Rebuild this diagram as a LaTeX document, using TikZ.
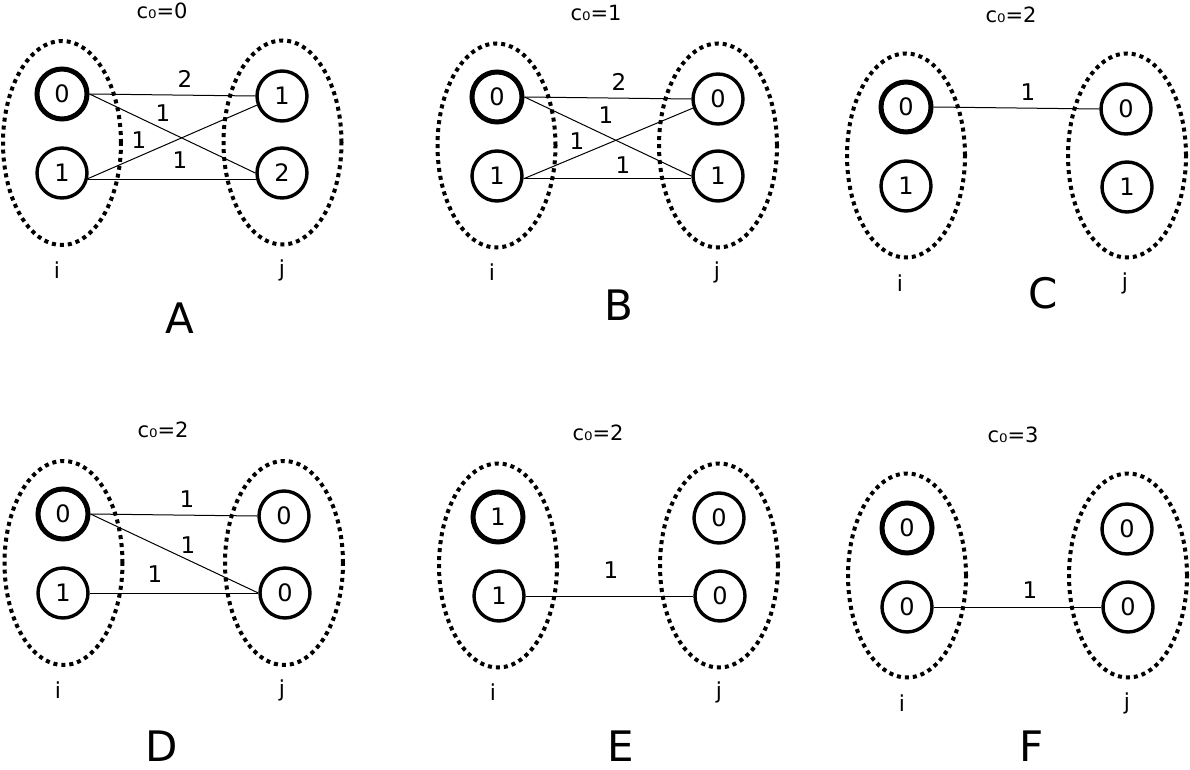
\documentclass[tikz,border=0pt]{standalone}
\usepackage{fontspec}
\setmainfont{DejaVu Sans}
\usetikzlibrary{shapes.geometric}
\tikzset{
  st/.style={circle, draw, line width=3.4pt, minimum size=50pt, inner sep=0pt, font=\fontsize{24}{24}\selectfont},
  stb/.style={st, line width=5pt},
  grp/.style={ellipse, draw, line width=4pt, dash pattern=on 4pt off 4pt, minimum width=118pt, minimum height=204pt, inner sep=0pt},
  edge/.style={line width=1pt},
  wl/.style={font=\fontsize{23}{23}\selectfont, inner sep=0pt},
  cztitle/.style={font=\fontsize{21}{21}\selectfont, inner sep=0pt},
  side/.style={font=\fontsize{22}{22}\selectfont, inner sep=0pt},
  big/.style={font=\fontsize{42}{42}\selectfont, inner sep=0pt},
}
\begin{document}
\begin{tikzpicture}[x=1pt,y=-1pt]
\useasboundingbox (0,0) rectangle (1190,770);

% ---------- Panel A ----------
\node[grp] (Ai) at (62,143) {};
\node[grp] (Aj) at (282.5,142.5) {};
\node[stb] (Ai0) at (62,94) {0};
\node[st] (Ai1) at (62,173) {1};
\node[st] (Aj1) at (282,96) {1};
\node[st] (Aj2) at (282,173) {2};
\draw[edge] (Ai0.east) -- (Aj1.west);
\draw[edge] (Ai0.east) -- (Aj2.west);
\draw[edge] (Ai1.-12) -- (Aj1.200);
\draw[edge] (Ai1.-14) -- (Aj2.194);
\node[wl] (Al1) at (185,79) {2};
\node[wl] (Al2) at (163,113) {1};
\node[wl] (Al3) at (139,140) {1};
\node[wl] (Al4) at (180,160) {1};
\node[cztitle] (Ac) at (162,11) {c₀=0};
\node[side] (Ail) at (57,270) {i};
\node[side] (Ajl) at (282,270) {j};
\node[big] (At) at (180,318) {A};

% ---------- Panel B ----------
\node[grp] (Bi) at (496.5,145.5) {};
\node[grp] (Bj) at (718,145.5) {};
\node[stb] (Bi0) at (497,97) {0};
\node[st] (Bi1) at (497,176) {1};
\node[st] (Bj0) at (718,99) {0};
\node[st] (Bj1) at (718,176) {1};
\draw[edge] (Bi0.east) -- (Bj0.west);
\draw[edge] (Bi0.east) -- (Bj1.west);
\draw[edge] (Bi1.-6) -- (Bj0.200);
\draw[edge] (Bi1.-6) -- (Bj1.186);
\node[wl] (Bl1) at (619,82) {2};
\node[wl] (Bl2) at (606,115) {1};
\node[wl] (Bl3) at (577,141) {1};
\node[wl] (Bl4) at (623,165) {1};
\node[cztitle] (Bc) at (596,13) {c₀=1};
\node[side] (Bil) at (492,272) {i};
\node[side] (Bjl) at (717,272) {j};
\node[big] (Bt) at (619,305) {B};

% ---------- Panel C ----------
\node[grp] (Ci) at (906,155.5) {};
\node[grp] (Cj) at (1127,155.5) {};
\node[stb] (Ci0) at (906,107) {0};
\node[st] (Ci1) at (906,186) {1};
\node[st] (Cj0) at (1126,109) {0};
\node[st] (Cj1) at (1127,187) {1};
\draw[edge] (Ci0.east) -- (Cj0.west);
\node[wl] (Cl1) at (1028,92) {1};
\node[cztitle] (Cc) at (1011,15) {c₀=2};
\node[side] (Cil) at (900,283) {i};
\node[side] (Cjl) at (1125,283) {j};
\node[big] (Ct) at (1043,293) {C};

% ---------- Panel D ----------
\node[grp] (Di) at (63.5,563) {};
\node[grp] (Dj) at (284,563) {};
\node[stb] (Di0) at (63,514) {0};
\node[st] (Di1) at (63,593) {1};
\node[st] (Dj0) at (284,516) {0};
\node[st] (Dj1) at (285,593) {0};
\draw[edge] (Di0.east) -- (Dj0.west);
\draw[edge] (Di0.east) -- (Dj1.west);
\draw[edge] (Di1.east) -- (Dj1.west);
\node[wl] (Dl1) at (187,499) {1};
\node[wl] (Dl2) at (188,545) {1};
\node[wl] (Dl3) at (155,574) {1};
\node[cztitle] (Dc) at (163,430) {c₀=2};
\node[side] (Dil) at (58,690) {i};
\node[side] (Djl) at (282,690) {j};
\node[big] (Dt) at (162,746) {D};

% ---------- Panel E ----------
\node[grp] (Ei) at (498,565.5) {};
\node[grp] (Ej) at (719,565.5) {};
\node[stb] (Ei0) at (498,517) {1};
\node[st] (Ei1) at (499,596) {1};
\node[st] (Ej0) at (719,518) {0};
\node[st] (Ej1) at (720,596) {0};
\draw[edge] (Ei1.east) -- (Ej1.west);
\node[wl] (El1) at (611,570) {1};
\node[cztitle] (Ec) at (598,433) {c₀=2};
\node[side] (Eil) at (493,692) {i};
\node[side] (Ejl) at (719,692) {j};
\node[big] (Et) at (621,746) {E};

% ---------- Panel F ----------
\node[grp] (Fi) at (907,575.5) {};
\node[grp] (Fj) at (1128,575.5) {};
\node[stb] (Fi0) at (907,528) {0};
\node[st] (Fi1) at (907,607) {0};
\node[st] (Fj0) at (1127,529) {0};
\node[st] (Fj1) at (1128,607) {0};
\draw[edge] (Fi1.east) -- (Fj1.west);
\node[wl] (Fl1) at (1030,590) {1};
\node[cztitle] (Fc) at (1013,435) {c₀=3};
\node[side] (Fil) at (902,703) {i};
\node[side] (Fjl) at (1127,703) {j};
\node[big] (Ft) at (1032,746) {F};
\end{tikzpicture}
\end{document}
